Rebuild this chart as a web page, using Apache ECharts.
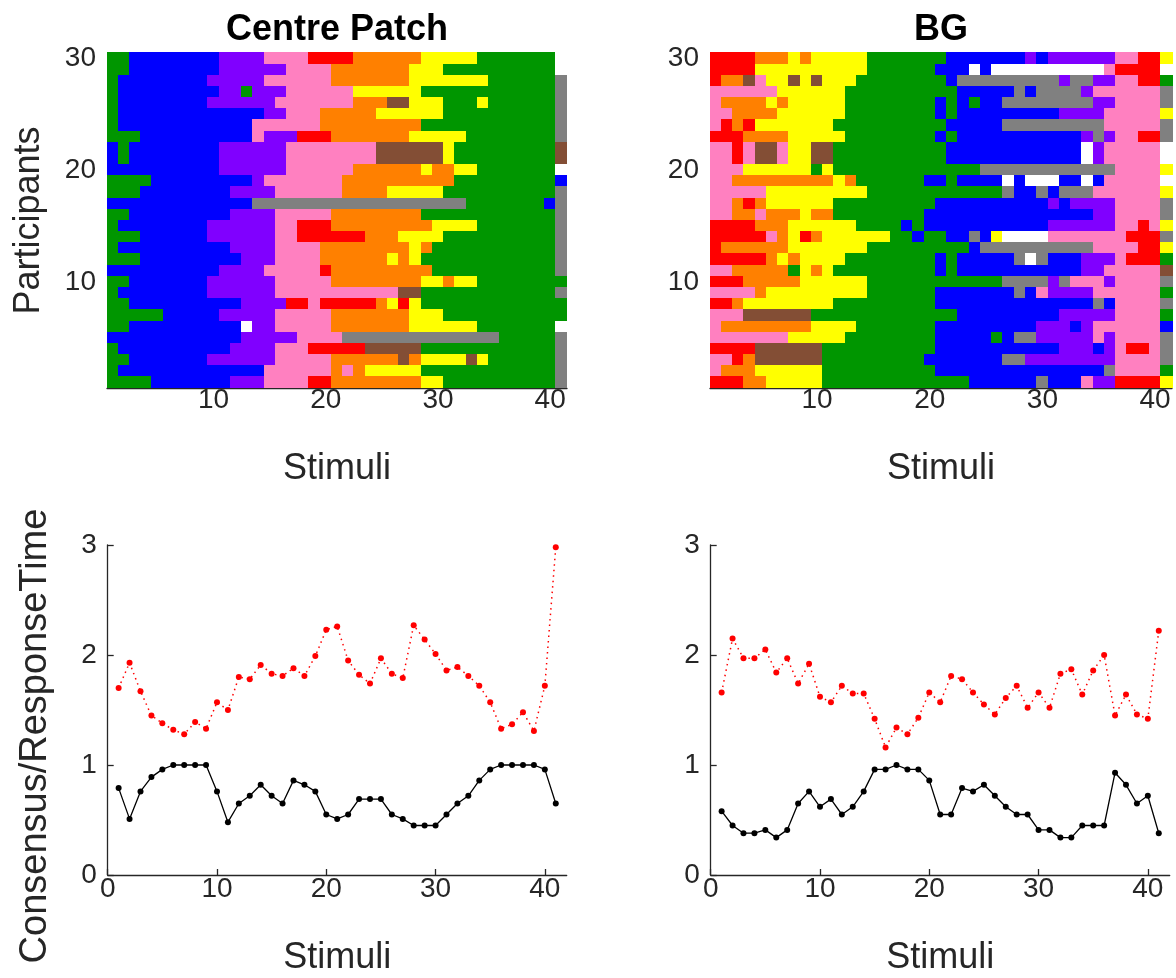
<!DOCTYPE html>
<html>
<head>
<meta charset="utf-8">
<script src="https://cdn.jsdelivr.net/npm/echarts@6/dist/echarts.min.js"></script>
<style>
  html, body { margin: 0; padding: 0; background: #fff; }
  #chart { width: 1176px; height: 978px; }
</style>
</head>
<body>
<div id="chart"></div>
<script>
// stimulus and participant categories
const stimuli = [1, 2, 3, 4, 5, 6, 7, 8, 9, 10, 11, 12, 13, 14, 15, 16, 17, 18, 19, 20,
  21, 22, 23, 24, 25, 26, 27, 28, 29, 30, 31, 32, 33, 34, 35, 36, 37, 38, 39, 40, 41];
const participants = [1, 2, 3, 4, 5, 6, 7, 8, 9, 10, 11, 12, 13, 14, 15,
  16, 17, 18, 19, 20, 21, 22, 23, 24, 25, 26, 27, 28, 29, 30];

// colour terms: G green, B blue, P purple, K pink, R red, O orange, Y yellow, N brown, A grey, W white
const termKeys = ['G', 'B', 'P', 'K', 'R', 'O', 'Y', 'N', 'A', 'W'];
const termColours = ['#009600', '#0000ff', '#8000ff', '#ff80c0', '#ff0000', '#ff8000', '#ffff00', '#834e35', '#808080', '#ffffff'];

// responses per participant, participant 30 first, run-length coded (term + count) along stimuli 1..41
const centreRows = [
  'G2 B8 P4 K4 R4 O6 Y5 G7 W1',
  'G2 B8 P6 K4 O7 Y3 G10 W1',
  'G1 B8 P5 K6 O7 Y7 G6 A1',
  'G1 B9 P2 G1 P3 K6 Y6 G12 A1',
  'G1 B8 P6 K7 O3 N2 Y3 G3 Y1 G6 A1',
  'G1 B13 P2 K3 O5 Y6 G10 A1',
  'G1 B12 K6 O9 G12 A1',
  'G3 B10 K1 P3 R3 O7 Y5 G8 A1',
  'B1 G1 B8 P6 K8 N6 Y1 G9 N1',
  'B1 G1 B8 P6 K8 N6 Y1 G9 N1',
  'B10 P6 K6 O6 Y1 O2 Y2 G7 W1',
  'G4 B9 P1 K7 O10 G9 B1',
  'G3 B8 P4 K6 O4 Y5 G10 A1',
  'B13 A19 G7 B1 A1',
  'G2 B9 P4 K5 O8 G12 A1',
  'G1 B8 P6 K2 R3 O9 Y4 G7 A1',
  'G3 B6 P6 K2 R6 O3 Y4 G10 A1',
  'G1 B10 P4 K4 O8 Y1 O1 G11 A1',
  'G3 B9 P3 K4 O6 Y1 O1 Y1 G12 A1',
  'B10 P4 K5 R1 O9 G11 A1',
  'G2 B7 P6 K5 O8 Y2 O1 Y2 G8',
  'G1 B8 P6 K11 N2 G12 A1',
  'G2 B10 P4 R2 K1 R5 O1 Y1 R1 Y1 G13',
  'G5 B5 P5 K5 O7 Y3 G11',
  'G2 B10 W1 P2 K5 O7 Y6 G7 W1',
  'B12 P5 K4 A14 G5 A1',
  'G1 B10 P4 K3 R5 N5 G12 A1',
  'G2 B7 P6 K5 O6 N1 O1 Y4 N1 Y1 G6 A1',
  'G1 B13 K6 O1 K1 O1 Y5 G12 A1',
  'G4 B7 P3 K4 R2 O8 Y2 G10 A1'
];

const bgRows = [
  'R4 O3 Y1 O1 Y5 G7 B7 P1 B1 P6 K2 R2 Y1',
  'R4 Y10 G6 B3 W1 B1 W10 K1 R4 W1',
  'R1 O2 N1 K1 Y2 N1 Y1 N1 Y3 G8 B1 A9 P1 A2 P2 K2 R2 G1',
  'K6 Y6 G10 B5 A1 B1 A4 P1 K6 A1',
  'K1 O4 Y1 O1 Y5 G8 B1 G1 B1 G1 B2 A8 P2 K4 A1',
  'K2 O4 Y6 G8 B1 G1 B9 P4 K5 Y1',
  'K1 R1 O1 R1 Y7 G10 B5 A9 K5 A1',
  'R3 O4 Y5 G8 B1 G1 B11 P1 A1 P1 K2 R2 A1',
  'K2 R1 K1 N2 K1 Y2 N2 G10 B12 W1 P1 K5 W1',
  'K2 R1 K1 N2 K1 Y2 N2 G10 B12 W1 P1 K5 W1',
  'K3 Y6 G1 Y1 G13 A12 K4 Y1',
  'K2 O9 Y1 O1 G6 B2 G1 B4 W1 B1 W3 B2 W1 B1 K5 W1',
  'K5 Y9 G12 A1 B2 A1 B1 A3 K6 Y1',
  'K2 O1 R1 O1 Y6 G9 B10 P1 B1 P4 K4 A1',
  'K2 O2 K1 O3 Y1 O2 G8 B15 P2 K4 A1',
  'R4 O3 Y6 G4 B1 G1 B11 P6 K2 R1 K1 Y1',
  'R5 K1 O1 Y1 R1 O1 Y6 G2 B1 G2 B2 A1 B1 Y1 W4 K7 R3 A1',
  'R1 O6 Y7 G9 B1 A10 K4 R2 Y1',
  'R5 O1 Y1 O1 Y4 G8 B1 G1 B5 A1 W1 A1 B3 P3 K1 R3 G1',
  'K2 O5 G1 Y1 O1 Y1 G9 B1 G1 B11 P2 K5 N1',
  'R3 O5 Y6 G12 A4 P1 A1 K3 P1 K4 A1',
  'K4 O1 Y9 G6 B7 A1 B1 K1 P4 K6 G1',
  'R2 O1 Y8 G9 B14 A1 B1 K4 A1',
  'K3 N6 G13 B9 P5 K4 G1',
  'K1 O8 Y4 G7 B9 P3 B1 P1 K6 B1',
  'K7 Y5 G8 B5 G1 B1 A2 P5 K1 P1 K4 A1',
  'R4 N6 G10 B11 P3 B1 P1 K1 R2 K1 A1',
  'K2 R1 O1 N6 G9 B7 A2 P8 K4 A1',
  'K1 O3 Y6 G10 B15 A1 K4 G1',
  'R3 O2 Y5 G13 B6 A1 B3 K1 P2 R4 Y1'
];

// consensus (black) and response time (red) per stimulus
const centreConsensus = [0.79, 0.51, 0.76, 0.89, 0.96, 1.00, 1.00, 1.00, 1.00, 0.76,
  0.48, 0.65, 0.72, 0.82, 0.72, 0.65, 0.86, 0.82, 0.76, 0.55,
  0.51, 0.55, 0.69, 0.69, 0.69, 0.55, 0.51, 0.45, 0.45, 0.45,
  0.55, 0.65, 0.72, 0.86, 0.96, 1.00, 1.00, 1.00, 1.00, 0.96, 0.65];
const centreTime = [1.70, 1.93, 1.67, 1.45, 1.38, 1.32, 1.28, 1.39, 1.33, 1.57,
  1.50, 1.80, 1.78, 1.91, 1.83, 1.81, 1.88, 1.81, 1.99, 2.23,
  2.26, 1.95, 1.82, 1.74, 1.97, 1.83, 1.79, 2.27, 2.14, 2.01,
  1.86, 1.89, 1.81, 1.72, 1.57, 1.33, 1.37, 1.48, 1.31, 1.72, 2.98];
const bgConsensus = [0.58, 0.45, 0.38, 0.38, 0.41, 0.34, 0.41, 0.65, 0.76, 0.62,
  0.69, 0.55, 0.62, 0.76, 0.96, 0.96, 1.00, 0.96, 0.96, 0.86,
  0.55, 0.55, 0.79, 0.76, 0.82, 0.72, 0.62, 0.55, 0.55, 0.41,
  0.41, 0.34, 0.34, 0.45, 0.45, 0.45, 0.93, 0.82, 0.65, 0.72, 0.38];
const bgTime = [1.66, 2.15, 1.97, 1.97, 2.05, 1.84, 1.97, 1.74, 1.92, 1.62,
  1.57, 1.72, 1.65, 1.65, 1.42, 1.16, 1.34, 1.28, 1.43, 1.66,
  1.57, 1.81, 1.78, 1.66, 1.55, 1.46, 1.61, 1.72, 1.52, 1.66,
  1.52, 1.83, 1.87, 1.64, 1.86, 2.00, 1.45, 1.64, 1.46, 1.42, 2.22];

const lineTicks = [0, 10, 20, 30, 40];

const font = 'Liberation Sans, Arial, Helvetica, sans-serif';
const ink = '#262626';
const tickFont = 28;
const nameFont = 36;

function expandRow(row) {
  return row.split(' ').map(t => t[0].repeat(Number(t.slice(1)))).join('');
}

function heatData(rows) {
  const out = [];
  rows.forEach((row, r) => {
    const cells = expandRow(row);
    if (cells.length !== stimuli.length) console.warn('row length', r, cells.length);
    for (let c = 0; c < cells.length; c++) {
      out.push([c, participants.length - 1 - r, termKeys.indexOf(cells[c])]);
    }
  });
  return out;
}

function pairs(values) {
  return values.map((v, i) => [stimuli[i], v]);
}

// cells drawn through the category axes; edges pushed out to whole pixels so neighbours never leave a gap
function renderCell(params, api) {
  const p = api.coord([api.value(0), api.value(1)]);
  const s = api.size([1, 1]);
  const x0 = Math.floor(p[0] - s[0] / 2), x1 = Math.ceil(p[0] + s[0] / 2);
  const y0 = Math.floor(p[1] - s[1] / 2), y1 = Math.ceil(p[1] + s[1] / 2);
  return {
    type: 'rect',
    shape: { x: x0, y: y0, width: x1 - x0, height: y1 - y0 },
    style: { fill: api.visual('color') }
  };
}

const chart = echarts.init(document.getElementById('chart'));

const grids = [
  { left: 107, top: 53, width: 460, height: 335 },
  { left: 710, top: 53, width: 462, height: 335 },
  { left: 107.7, top: 545, width: 459, height: 330 },
  { left: 710.7, top: 545, width: 459, height: 330 }
];

function heatX(gi) {
  return {
    gridIndex: gi, type: 'category', data: stimuli.map(String),
    axisLine: { show: true, lineStyle: { color: ink, width: 1.3 } },
    axisTick: { show: false },
    axisLabel: { interval: (i) => (i + 1) % 10 === 0, color: ink, fontSize: tickFont, fontFamily: font, margin: -2 },
    splitLine: { show: false },
    name: 'Stimuli', nameLocation: 'middle', nameGap: 63,
    nameTextStyle: { color: ink, fontSize: nameFont, fontFamily: font }
  };
}

function heatY(gi, withName) {
  return {
    gridIndex: gi, type: 'category', data: participants.map(String),
    axisLine: { show: false }, axisTick: { show: false },
    axisLabel: { interval: (i) => (i + 1) % 10 === 0, color: ink, fontSize: tickFont, fontFamily: font, margin: 11 },
    splitLine: { show: false },
    name: withName ? 'Participants' : '', nameLocation: 'middle', nameGap: 60,
    nameTextStyle: { color: ink, fontSize: nameFont, fontFamily: font }
  };
}

function lineX(gi) {
  return {
    gridIndex: gi, type: 'value', min: 0, max: 42,
    axisLine: { show: true, onZero: false, lineStyle: { color: ink, width: 1.3 } },
    axisTick: { show: true, inside: true, length: 6, customValues: lineTicks, lineStyle: { color: ink, width: 1.3 } },
    axisLabel: { customValues: lineTicks, color: ink, fontSize: tickFont, fontFamily: font, margin: 0 },
    splitLine: { show: false },
    name: 'Stimuli', nameLocation: 'middle', nameGap: 65,
    nameTextStyle: { color: ink, fontSize: nameFont, fontFamily: font }
  };
}

function lineY(gi, withName) {
  return {
    gridIndex: gi, type: 'value', min: 0, max: 3, interval: 1,
    axisLine: { show: true, lineStyle: { color: ink, width: 1.3 } },
    axisTick: { show: true, inside: true, length: 6, lineStyle: { color: ink, width: 1.3 } },
    axisLabel: { color: ink, fontSize: tickFont, fontFamily: font, margin: 11 },
    splitLine: { show: false },
    name: withName ? 'Consensus/ResponseTime' : '', nameLocation: 'middle', nameGap: 53,
    nameTextStyle: { color: ink, fontSize: 38, fontFamily: font, padding: [0, 52, 0, 0] }
  };
}

function heatSeries(gi, rows) {
  return {
    type: 'custom', xAxisIndex: gi, yAxisIndex: gi, data: heatData(rows),
    dimensions: ['stimulus', 'participant', 'term'],
    encode: { x: 0, y: 1 },
    renderItem: renderCell, z: 1
  };
}

function blackLine(gi, values) {
  return {
    type: 'line', xAxisIndex: gi, yAxisIndex: gi, data: pairs(values),
    symbol: 'circle', symbolSize: 6, showSymbol: true,
    lineStyle: { color: '#000', width: 1.3 }, itemStyle: { color: '#000' }, z: 3
  };
}

function redLine(gi, values) {
  return {
    type: 'line', xAxisIndex: gi, yAxisIndex: gi, data: pairs(values),
    symbol: 'circle', symbolSize: 6, showSymbol: true,
    lineStyle: { color: '#ff0000', width: 1.5, type: [1.5, 4] }, itemStyle: { color: '#ff0000' }, z: 3
  };
}

const option = {
  animation: false,
  backgroundColor: '#fff',
  textStyle: { fontFamily: font },
  title: [
    { text: 'Centre Patch', left: 337, top: 12, padding: 0, textAlign: 'center',
      textStyle: { fontSize: nameFont, fontWeight: 'bold', color: '#000', fontFamily: font } },
    { text: 'BG', left: 941, top: 12, padding: 0, textAlign: 'center',
      textStyle: { fontSize: nameFont, fontWeight: 'bold', color: '#000', fontFamily: font } }
  ],
  grid: grids,
  visualMap: {
    type: 'piecewise', show: false, seriesIndex: [0, 1], dimension: 2,
    pieces: termColours.map((c, i) => ({ value: i, color: c }))
  },
  xAxis: [heatX(0), heatX(1), lineX(2), lineX(3)],
  yAxis: [heatY(0, true), heatY(1, false), lineY(2, true), lineY(3, false)],
  series: [
    heatSeries(0, centreRows),
    heatSeries(1, bgRows),
    blackLine(2, centreConsensus),
    redLine(2, centreTime),
    blackLine(3, bgConsensus),
    redLine(3, bgTime)
  ]
};

chart.setOption(option);
</script>
</body>
</html>
